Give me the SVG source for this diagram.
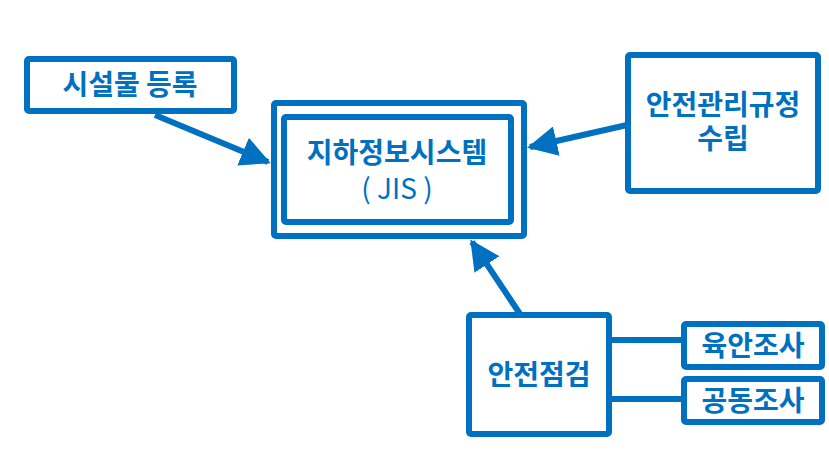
<svg xmlns="http://www.w3.org/2000/svg" width="829" height="466" viewBox="0 0 829 466">
<defs>
<style>
.b{fill:#fff;stroke:#0070C0;stroke-width:6}
.t{fill:#0070C0;font-family:"Noto Sans CJK KR","Noto Sans",sans-serif;font-weight:bold;font-size:28px;text-anchor:middle}
.c{stroke:#0070C0;stroke-width:6;fill:none}
</style>
<marker id="a" viewBox="0 0 10 10" refX="9" refY="5" markerWidth="5" markerHeight="5" orient="auto" markerUnits="strokeWidth"><path d="M0,0L10,5L0,10z" fill="#0070C0"/></marker>
</defs>
<rect width="829" height="466" fill="#fff"/>
<g id="connectors">
<line class="c" x1="155" y1="115" x2="268" y2="162" marker-end="url(#a)"/>
<line class="c" x1="627" y1="125" x2="530" y2="147" marker-end="url(#a)"/>
<line class="c" x1="520" y1="314" x2="472" y2="242" marker-end="url(#a)"/>
<line class="c" x1="610" y1="340" x2="683" y2="340"/>
<line class="c" x1="610" y1="399" x2="683" y2="399"/>
</g>
<g id="n1"><rect class="b" x="27" y="59" width="207" height="52" rx="2"/><text class="t" x="130" y="95">시설물 등록</text></g>
<g id="n2"><rect class="b" x="274" y="103" width="250" height="133" rx="2"/><rect class="b" x="284" y="117" width="227" height="105" rx="2"/><text class="t" x="397" y="163">지하정보시스템</text><text class="t" x="397" y="199" style="font-weight:normal">( JIS )</text></g>
<g id="n3"><rect class="b" x="628" y="55" width="190" height="136" rx="2"/><text class="t" x="723" y="115">안전관리규정</text><text class="t" x="723" y="149">수립</text></g>
<g id="n4"><rect class="b" x="469" y="315" width="140" height="119" rx="2"/><text class="t" x="539" y="385">안전점검</text></g>
<g id="n5"><rect class="b" x="684" y="324" width="138" height="43" rx="2"/><text class="t" x="753" y="356">육안조사</text></g>
<g id="n6"><rect class="b" x="684" y="379" width="138" height="43" rx="2"/><text class="t" x="753" y="411">공동조사</text></g>
</svg>
